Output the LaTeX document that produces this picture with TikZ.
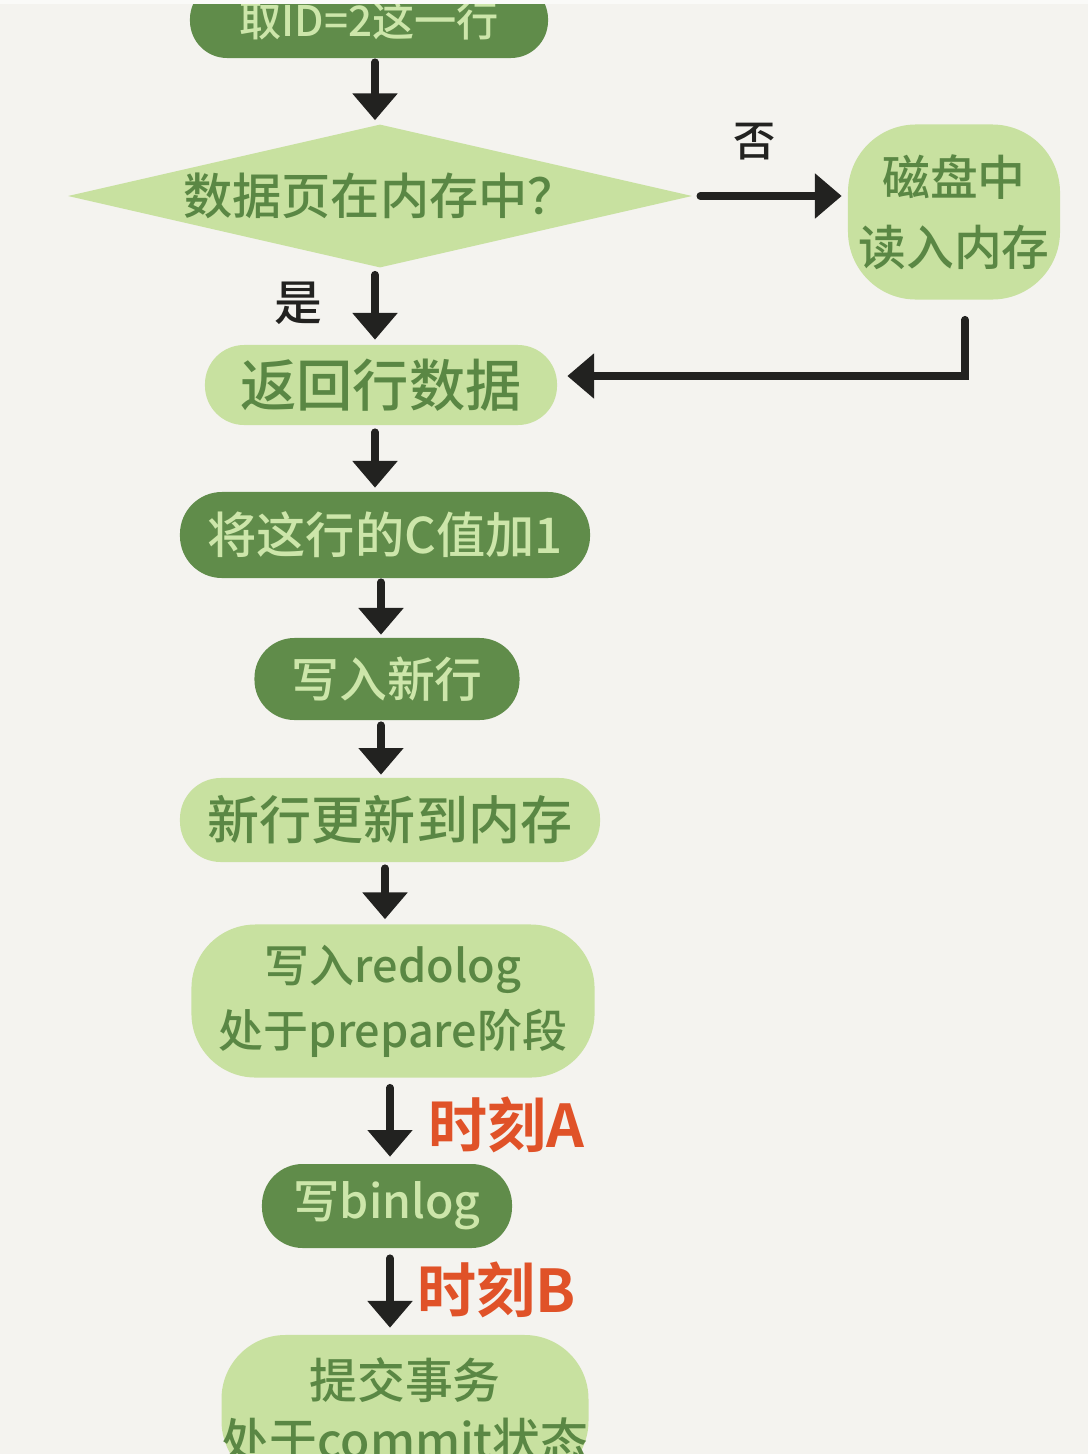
\documentclass[tikz,border=0pt]{standalone}
\usepackage{fontspec}
\usetikzlibrary{shapes.geometric,arrows.meta,calc}
\newfontfamily\cjk{Noto Sans CJK SC Medium}
\newfontfamily\cjkbold{Noto Sans CJK SC Bold}
\definecolor{bg}{RGB}{244,243,239}
\definecolor{darkfill}{RGB}{96,140,74}
\definecolor{lightfill}{RGB}{200,225,160}
\definecolor{paletext}{RGB}{205,230,170}
\definecolor{deeptext}{RGB}{90,135,68}
\definecolor{ink}{RGB}{34,34,32}
\definecolor{moment}{RGB}{224,82,40}

\begin{document}
\begin{tikzpicture}[x=0.025cm,y=-0.025cm,
  darknode/.style={rectangle, fill=darkfill, text=paletext, inner sep=0pt},
  lightnode/.style={rectangle, fill=lightfill, text=deeptext, inner sep=0pt},
  arr/.style={draw=ink, line width=5.5pt, line cap=round,
              -{Triangle[width=31pt,length=19pt]}},
  tag/.style={text=ink, inner sep=0pt},
  momenttag/.style={text=moment, inner sep=0pt, anchor=west,
                    font=\cjkbold\fontsize{42}{50}\selectfont}]

% canvas
\fill[bg] (0,0) rectangle (1088,1454);
\useasboundingbox (0,0) rectangle (1088,1454);
\clip (0,0) rectangle (1088,1454);

% steps
\node[darknode, minimum width=8.95cm, minimum height=1.9cm, rounded corners=0.93cm,
      font=\cjk\fontsize{30}{36}\selectfont] (fetch) at (369,20)
      {\raisebox{-0.15cm}{取ID=2这一行}};

\node[diamond, aspect=4.36, fill=lightfill, text=deeptext, inner sep=0pt,
      minimum width=15.6cm, minimum height=3.575cm,
      font=\cjk\fontsize{35}{42}\selectfont] (inmem) at (380,196) {数据页在内存中？};

\node[lightnode, minimum width=5.3cm, minimum height=4.375cm, rounded corners=1.7cm,
      align=center, font=\cjk\fontsize{34}{50}\selectfont] (disk) at (954,212) {磁盘中\\读入内存};

\node[lightnode, minimum width=8.8cm, minimum height=2cm, rounded corners=0.98cm,
      font=\cjk\fontsize{40}{46}\selectfont] (ret) at (381,385) {返回行数据};

\node[darknode, minimum width=10.25cm, minimum height=2.15cm, rounded corners=1.05cm,
      font=\cjk\fontsize{35}{42}\selectfont] (incr) at (385,535) {将这行的C值加1};

\node[darknode, minimum width=6.625cm, minimum height=2.05cm, rounded corners=1cm,
      font=\cjk\fontsize{34}{40}\selectfont] (newrow) at (387,679) {写入新行};

\node[lightnode, minimum width=10.5cm, minimum height=2.1cm, rounded corners=1.02cm,
      font=\cjk\fontsize{37}{44}\selectfont] (tomem) at (390,820) {新行更新到内存};

\node[lightnode, minimum width=10.075cm, minimum height=3.825cm, rounded corners=1.6cm,
      align=center, font=\cjk\fontsize{32}{46}\selectfont] (redo) at (393,1001)
      {写入redolog\\处于prepare阶段};

\node[darknode, minimum width=6.25cm, minimum height=2.1cm, rounded corners=1.02cm,
      font=\cjk\fontsize{33}{40}\selectfont] (binlog) at (387,1206) {写binlog};

\node[lightnode, minimum width=9.15cm, minimum height=3.75cm, rounded corners=1.6cm,
      align=center, font=\cjk\fontsize{34}{43}\selectfont] (commit) at (405,1410)
      {提交事务\\处于commit状态};

% branch labels
\node[tag, font=\cjk\fontsize{30}{36}\selectfont] (no) at (755,142) {否};
\node[tag, font=\cjk\fontsize{34}{40}\selectfont] (yes) at (298,303) {是};

% flow
\draw[arr] ($(fetch.south)+(6,4)$) -- ($(inmem.north)+(-5,-4)$);
\draw[arr] ($(inmem.east)+(8,0)$) -- ($(inmem.east -| disk.west)+(-6,0)$);
\draw[arr] ($(inmem.south)+(-5,7)$) -- ($(ret.north)+(-6,-5)$);
\draw[arr] ($(disk.south)+(11,20)$) |- ($(ret.east)+(10,-9)$);
\draw[arr] ($(ret.south)+(-6,7)$) -- ($(incr.north)+(-10,-4)$);
\draw[arr] ($(incr.south)+(-4,4)$) -- ($(newrow.north)+(-6,-3)$);
\draw[arr] ($(newrow.south)+(-6,5)$) -- ($(tomem.north)+(-9,-3)$);
\draw[arr] ($(tomem.south)+(-5,6)$) -- ($(redo.north)+(-8,-5)$);
\draw[arr] ($(redo.south)+(-3,10)$) -- ($(binlog.north)+(3,-7)$);
\draw[arr] ($(binlog.south)+(3,10)$) -- ($(commit.north)+(-15,-7)$);

% commit moments
\node[momenttag] (momentA) at (428,1125) {时刻A};
\node[momenttag] (momentB) at (417,1290) {时刻B};

% top edge strip
\fill[white!55!bg] (0,0) rectangle (1088,4);
\end{tikzpicture}
\end{document}
